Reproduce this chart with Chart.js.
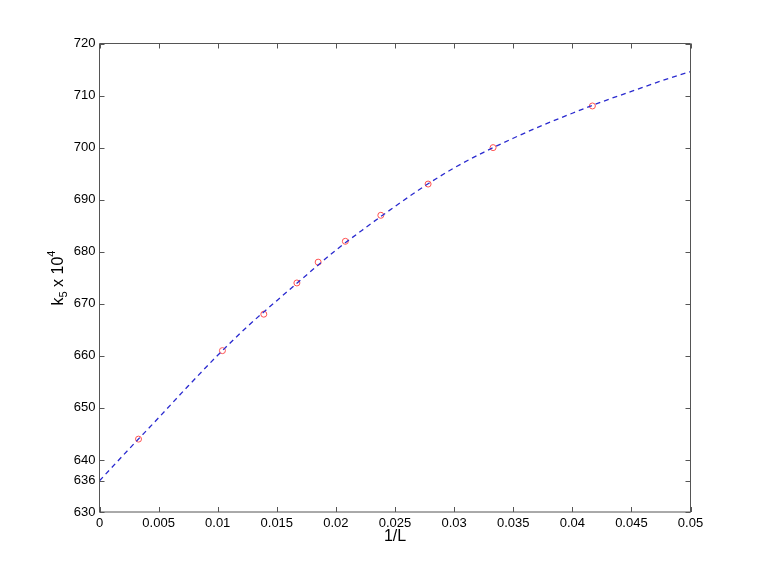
<!DOCTYPE html>
<html><head><meta charset="utf-8">
<script src="https://cdn.jsdelivr.net/npm/chart.js@4/dist/chart.umd.min.js"></script>
<style>html,body{margin:0;padding:0;background:#fff;}#wrap{width:763px;height:576px;}</style>
</head><body><div id="wrap"><canvas id="c" width="763" height="576"></canvas></div>
<script>
const dataX = [0.0033, 0.0104, 0.0139, 0.0167, 0.0185, 0.0208, 0.0238, 0.0278, 0.0333, 0.0417];
const dataY = [644, 661, 668, 674, 678, 682, 687, 693, 700, 708];
const fitX = [0, 0.0025, 0.005, 0.0075, 0.01, 0.0125, 0.015, 0.0175, 0.02, 0.0225, 0.025, 0.0275, 0.03, 0.0325, 0.035, 0.0375, 0.04, 0.0425, 0.045, 0.0475, 0.05];
const fitY = [636.0, 642.1, 648.1, 654.2, 660.1, 665.6, 670.6, 675.5, 680.3, 684.6, 688.7, 692.6, 696.1, 699.1, 701.8, 704.3, 706.6, 708.8, 710.8, 712.8, 714.6];
const xTicks = [0, 0.005, 0.01, 0.015, 0.02, 0.025, 0.03, 0.035, 0.04, 0.045, 0.05];
const yTicks = [630, 636, 640, 650, 660, 670, 680, 690, 700, 710, 720];
const xTickLabels = ['0', '0.005', '0.01', '0.015', '0.02', '0.025', '0.03', '0.035', '0.04', '0.045', '0.05'];

const FONT = '"Liberation Sans", Arial, sans-serif';

const innerTicks = {
  id: 'innerTicks',
  afterDraw(chart) {
    const ctx = chart.ctx, a = chart.chartArea;
    const xs = chart.scales.x, ys = chart.scales.y;
    ctx.save();
    ctx.strokeStyle = '#555';
    ctx.lineWidth = 1;
    ctx.beginPath();
    ctx.rect(a.left, a.top, a.right - a.left, a.bottom - a.top);
    ctx.stroke();
    const L = 5;
    ctx.beginPath();
    xTicks.forEach(v => {
      const p = Math.round(xs.getPixelForValue(v)) + 0.5;
      ctx.moveTo(p, a.bottom); ctx.lineTo(p, a.bottom - L);
      ctx.moveTo(p, a.top); ctx.lineTo(p, a.top + L);
    });
    yTicks.forEach(v => {
      const p = Math.round(ys.getPixelForValue(v)) + 0.5;
      ctx.moveTo(a.left, p); ctx.lineTo(a.left + L, p);
      ctx.moveTo(a.right, p); ctx.lineTo(a.right - L, p);
    });
    ctx.stroke();
    ctx.fillStyle = '#000';
    // x axis title
    ctx.font = '16px ' + FONT;
    ctx.textAlign = 'center';
    ctx.textBaseline = 'middle';
    ctx.fillText('1/L', (a.left + a.right) / 2, 537);
    // y axis title k_5 x 10^4
    ctx.translate(63, 278);
    ctx.rotate(-Math.PI / 2);
    ctx.textBaseline = 'alphabetic';
    ctx.textAlign = 'left';
    const big = '16px ' + FONT, small = '11px ' + FONT;
    ctx.font = big; const w1 = ctx.measureText('k').width;
    ctx.font = small; const w2 = ctx.measureText('5').width;
    ctx.font = big; const w3 = ctx.measureText(' x 10').width;
    ctx.font = small; const w4 = ctx.measureText('4').width;
    let x0 = -(w1 + w2 + w3 + w4) / 2;
    ctx.font = big; ctx.fillText('k', x0, 0); x0 += w1;
    ctx.font = small; ctx.fillText('5', x0, 4); x0 += w2;
    ctx.font = big; ctx.fillText(' x 10', x0, 0); x0 += w3;
    ctx.font = small; ctx.fillText('4', x0, -8);
    ctx.restore();
  }
};

new Chart(document.getElementById('c'), {
  type: 'scatter',
  data: {
    datasets: [
      {
        type: 'line',
        data: fitX.map((x, i) => ({x: x, y: fitY[i]})),
        borderColor: '#2a2acf',
        borderWidth: 1.3,
        borderDash: [5, 4],
        pointRadius: 0,
        fill: false,
        cubicInterpolationMode: 'monotone'
      },
      {
        data: dataX.map((x, i) => ({x: x, y: dataY[i]})),
        borderColor: '#ff5050',
        backgroundColor: 'rgba(0,0,0,0)',
        borderWidth: 1,
        pointRadius: 3,
        pointStyle: 'circle'
      }
    ]
  },
  options: {
    responsive: false,
    animation: false,
    devicePixelRatio: 1,
    layout: {padding: {left: 0, right: 72.5, top: 43.5, bottom: 0}},
    plugins: {legend: {display: false}, tooltip: {enabled: false}},
    scales: {
      x: {
        type: 'linear', min: 0, max: 0.05,
        afterBuildTicks: s => { s.ticks = xTicks.map(v => ({value: v})); },
        afterFit: s => { s.height = 64; },
        grid: {display: false, drawTicks: false},
        border: {display: false},
        ticks: {
          color: '#000', padding: 4, maxRotation: 0, autoSkip: false,
          font: {family: FONT, size: 13},
          callback: (v, i) => xTickLabels[i]
        }
      },
      y: {
        type: 'linear', min: 630, max: 720,
        afterBuildTicks: s => { s.ticks = yTicks.map(v => ({value: v})); },
        afterFit: s => { s.width = 99.5; },
        grid: {display: false, drawTicks: false},
        border: {display: false},
        ticks: {
          color: '#000', padding: 4, autoSkip: false,
          font: {family: FONT, size: 13},
          callback: v => String(v)
        }
      }
    }
  },
  plugins: [innerTicks]
});
</script></body></html>
